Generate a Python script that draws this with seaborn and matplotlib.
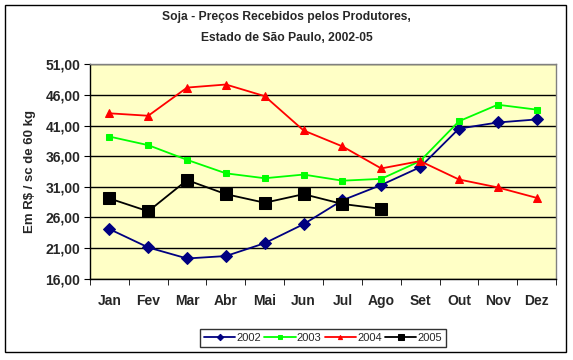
import numpy as np
import pandas as pd
import matplotlib
matplotlib.use("Agg")
import matplotlib.pyplot as plt
import seaborn as sns
from matplotlib.patches import Rectangle

# Data
months = ["Jan", "Fev", "Mar", "Abr", "Mai", "Jun", "Jul", "Ago", "Set", "Out", "Nov", "Dez"]
p2002 = [24.1, 21.1, 19.3, 19.7, 21.8, 24.9, 28.8, 31.3, 34.2, 40.5, 41.5, 42.0]
p2003 = [39.2, 37.8, 35.4, 33.2, 32.4, 33.0, 32.0, 32.3, 35.2, 41.7, 44.4, 43.6]
p2004 = [43.0, 42.6, 47.2, 47.7, 45.8, 40.2, 37.6, 34.0, 35.2, 32.2, 30.9, 29.2]
p2005 = [29.1, 27.0, 32.1, 29.8, 28.4, 29.8, 28.2, 27.4]
years = ["2002", "2003", "2004", "2005"]
yticks = [16, 21, 26, 31, 36, 41, 46, 51]

series = {"2002": p2002, "2003": p2003, "2004": p2004, "2005": p2005}
styles = {
    "2002": dict(color="#000080", marker="D", ms=6.5),
    "2003": dict(color="#00FF00", marker="s", ms=5),
    "2004": dict(color="#FF0000", marker="^", ms=6),
    "2005": dict(color="#000000", marker="s", ms=8),
}

rows = []
for y in years:
    for i, v in enumerate(series[y]):
        rows.append({"mes": i, "ano": y, "preco": v})
df = pd.DataFrame(rows)

sns.set_style("white")
plt.rcParams["font.family"] = ["Liberation Sans", "DejaVu Sans"]

fig = plt.figure(figsize=(5.73, 3.6), dpi=100)
ax = fig.add_axes([90 / 573, 1 - 278.7 / 360, (556 - 90) / 573, (278.7 - 64.3) / 360])
ax.set_facecolor("#FFFFC6")

for y in years:
    st = styles[y]
    sns.lineplot(data=df[df["ano"] == y], x="mes", y="preco", ax=ax,
                 color=st["color"], marker=st["marker"], markersize=st["ms"],
                 markeredgecolor=st["color"], linewidth=1.3, label=y, zorder=3)

ax.set_xlim(-0.5, 11.5)
ax.set_ylim(16, 51)
ax.set_yticks(yticks)
ax.set_yticklabels([f"{v:.2f}".replace(".", ",") for v in yticks],
                   fontsize=10, fontweight="bold")
ax.yaxis.grid(True, color="black", linewidth=1)
ax.xaxis.grid(False)

ax.set_xticks(range(12))
ax.set_xticklabels(months, fontsize=10, fontweight="bold")
ax.tick_params(axis="x", length=0, pad=11)
ax.set_xticks(np.arange(-0.5, 12, 1), minor=True)
ax.tick_params(axis="x", which="minor", length=4, direction="out", color="black", bottom=True)
ax.tick_params(axis="y", length=4, direction="out", color="black", left=True, pad=3)

for side in ["top", "right"]:
    ax.spines[side].set_color("#808080")
for side in ["left", "bottom"]:
    ax.spines[side].set_color("black")
for s in ax.spines.values():
    s.set_linewidth(1)

ax.set_xlabel("")
ax.set_ylabel("Em R$ / sc de 60 kg", fontsize=9.5, fontweight="bold", labelpad=7)

leg = ax.legend(loc="center", bbox_to_anchor=(323 / 573, 1 - 338 / 360),
                bbox_transform=fig.transFigure, ncol=4, frameon=True, fancybox=False,
                fontsize=8, handlelength=2.8, handletextpad=0.1, columnspacing=0.3,
                borderpad=0.35, markerscale=0.5)
leg.get_frame().set_edgecolor("black")
leg.get_frame().set_linewidth(1)

fig.text(0.5, 1 - 17 / 360, "Soja - Preços Recebidos pelos Produtores,",
         ha="center", va="center", fontsize=8.7, fontweight="bold")
fig.text(0.5, 1 - 38 / 360, "Estado de São Paulo, 2002-05",
         ha="center", va="center", fontsize=8.7, fontweight="bold")

fig.patches.append(Rectangle((5 / 573, 1 - 352 / 360), 561 / 573, 347 / 360,
                             transform=fig.transFigure, fill=False,
                             edgecolor="black", linewidth=1))

fig.savefig("out.png", dpi=100)
